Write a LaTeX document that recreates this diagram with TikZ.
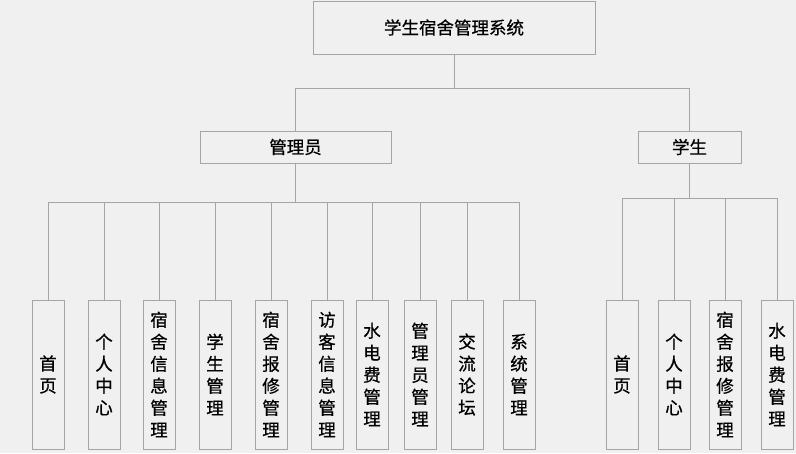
\documentclass[tikz,border=0pt]{standalone}
\usepackage{fontspec}
\newfontfamily\cjk[FakeBold=0.6]{Noto Sans CJK SC}
\definecolor{bgcol}{HTML}{F0F0F0}
\definecolor{edgecol}{HTML}{A5A5A5}
\tikzset{
	sysbox/.style={draw=edgecol, line width=0.9pt, fill=bgcol, inner sep=0pt, font=\cjk\fontsize{17.5}{22}\selectfont},
	leafbox/.style={sysbox, minimum width=32pt, minimum height=149pt, align=center},
	link/.style={draw=edgecol, line width=0.9pt}
}
\begin{document}
\begin{tikzpicture}[x=1pt, y=-1pt]
			\fill[bgcol] (0,0) rectangle (796,453);
			\useasboundingbox (0,0) rectangle (796,453);

			\node[sysbox, minimum width=282pt, minimum height=53pt] (sys) at (454,27.5){学生宿舍管理系统};

				\node[sysbox, minimum width=191pt, minimum height=32pt] (admin) at (295.5,147){管理员};
				\node[sysbox, minimum width=103pt, minimum height=32pt] (stu) at (689.5,147){学生};

			% admin side
				\node[leafbox] (a1) at (48,374.5){首\\页};
				\node[leafbox] (a2) at (104,374.5){个\\人\\中\\心};
				\node[leafbox] (a3) at (159,374.5){宿\\舍\\信\\息\\管\\理};
				\node[leafbox] (a4) at (215,374.5){学\\生\\管\\理};
				\node[leafbox] (a5) at (271,374.5){宿\\舍\\报\\修\\管\\理};
				\node[leafbox] (a6) at (327,374.5){访\\客\\信\\息\\管\\理};
				\node[leafbox] (a7) at (372,374.5){水\\电\\费\\管\\理};
				\node[leafbox] (a8) at (420,374.5){管\\理\\员\\管\\理};
				\node[leafbox] (a9) at (467,374.5){交\\流\\论\\坛};
				\node[leafbox] (a10) at (519,374.5){系\\统\\管\\理};

			% student side
				\node[leafbox] (s1) at (622,374.5){首\\页};
				\node[leafbox] (s2) at (674,374.5){个\\人\\中\\心};
				\node[leafbox] (s3) at (725,374.5){宿\\舍\\报\\修\\管\\理};
				\node[leafbox] (s4) at (777,374.5){水\\电\\费\\管\\理};

			\draw[link] (sys.south) -- ++(0,34) -| (admin.north);
			\draw[link] (sys.south) -- ++(0,34) -| (stu.north);
			\foreach \n in {a1,a2,a3,a4,a5,a6,a7,a8,a9,a10}
				\draw[link] (admin.south) -- ++(0,39) -| (\n.north);
			\foreach \n in {s1,s2,s3,s4}
				\draw[link] (stu.south) -- ++(0,35) -| (\n.north);
		\end{tikzpicture}
\end{document}
